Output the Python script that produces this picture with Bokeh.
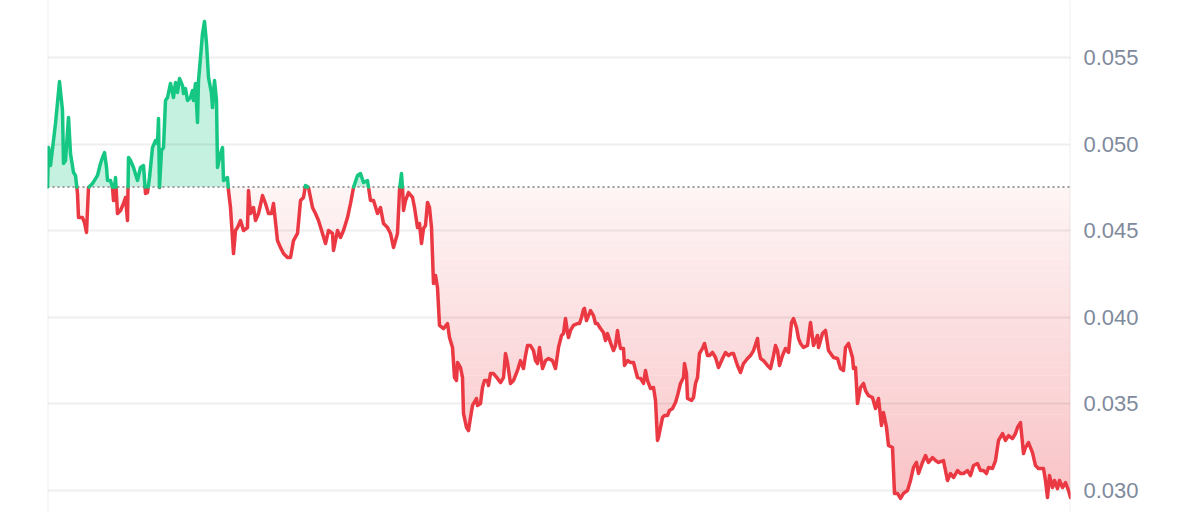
import numpy as np
from bokeh.plotting import figure
from bokeh.models import Range1d, FixedTicker, PrintfTickFormatter, Span
from bokeh.embed import file_html
from bokeh.resources import INLINE

# time index (sample positions) and price values
t = [0, 1, 3, 8, 12, 15, 16, 18, 21, 23, 26, 28, 30, 31, 35, 37, 39, 41, 45, 50,
     53, 55, 57, 59, 60, 63, 65, 66, 68, 70, 73, 76, 78, 80, 81, 83, 86, 90, 93, 96,
     98, 100, 102, 105, 108, 110, 111, 112, 114, 116, 118, 120, 123, 126, 128, 130, 132, 135, 136, 138,
     140, 143, 145, 146, 148, 150, 151, 153, 155, 157, 159, 161, 164, 165, 167, 169, 170, 173, 175, 176,
     180, 181, 183, 186, 188, 190, 193, 196, 200, 201, 203, 206, 208, 211, 215, 218, 221, 224, 226, 230,
     233, 236, 240, 243, 246, 250, 253, 256, 258, 261, 265, 268, 271, 275, 278, 281, 285, 286, 290, 293,
     296, 300, 303, 306, 310, 313, 316, 320, 323, 326, 330, 333, 336, 340, 343, 346, 350, 352, 354, 355,
     356, 358, 361, 365, 367, 370, 372, 374, 376, 378, 380, 382, 384, 386, 388, 390, 392, 396, 400, 402,
     405, 407, 409, 410, 413, 415, 416, 419, 421, 423, 425, 426, 429, 430, 433, 435, 437, 440, 441, 443,
     446, 450, 453, 456, 458, 460, 463, 466, 470, 473, 476, 478, 480, 483, 486, 488, 490, 492, 495, 498,
     501, 505, 508, 511, 514, 516, 518, 520, 521, 523, 526, 530, 532, 534, 536, 537, 539, 541, 543, 546,
     548, 550, 553, 556, 558, 560, 563, 566, 568, 570, 571, 573, 576, 577, 580, 583, 586, 590, 593, 596,
     598, 600, 603, 606, 608, 610, 611, 613, 615, 617, 620, 622, 625, 628, 630, 633, 636, 637, 639, 640,
     644, 646, 648, 650, 652, 655, 657, 660, 662, 665, 668, 671, 675, 678, 681, 684, 686, 690, 693, 696,
     700, 703, 706, 710, 711, 713, 716, 720, 723, 726, 728, 730, 732, 735, 738, 741, 744, 746, 749, 751,
     753, 756, 760, 763, 766, 770, 771, 775, 778, 781, 786, 790, 793, 796, 798, 801, 805, 806, 808, 810,
     813, 816, 818, 821, 825, 828, 831, 834, 836, 839, 841, 845, 847, 850, 853, 856, 860, 863, 866, 869,
     871, 875, 878, 881, 885, 888, 891, 896, 900, 903, 906, 910, 913, 916, 920, 923, 926, 930, 933, 936,
     939, 941, 945, 948, 951, 955, 958, 961, 965, 968, 970, 973, 976, 978, 981, 985, 988, 991, 996, 998,
     1000, 1002, 1005, 1007, 1010, 1012, 1015, 1018, 1021, 1023]

price = [0.04752, 0.04980, 0.04876, 0.05119, 0.05361, 0.05194, 0.04888, 0.04905, 0.05154, 0.04946,
         0.04836, 0.04819, 0.04715, 0.04576, 0.04576, 0.04547, 0.04490, 0.04749, 0.04772, 0.04819,
         0.04888, 0.04923, 0.04951, 0.04865, 0.04790, 0.04790, 0.04749, 0.04674, 0.04807, 0.04599,
         0.04617, 0.04657, 0.04692, 0.04559, 0.04923, 0.04905, 0.04865, 0.04790, 0.04865, 0.04876,
         0.04715, 0.04720, 0.04807, 0.04980, 0.05021, 0.05003, 0.05148, 0.04749, 0.04963, 0.04980,
         0.05252, 0.05269, 0.05350, 0.05269, 0.05356, 0.05298, 0.05379, 0.05338, 0.05292, 0.05321,
         0.05252, 0.05269, 0.05309, 0.05252, 0.05350, 0.05125, 0.05367, 0.05500, 0.05639, 0.05708,
         0.05581, 0.05385, 0.05292, 0.05211, 0.05367, 0.05252, 0.04865, 0.04946, 0.04980, 0.04790,
         0.04807, 0.04732, 0.04634, 0.04368, 0.04501, 0.04518, 0.04559, 0.04501, 0.04518, 0.04732,
         0.04599, 0.04634, 0.04559, 0.04599, 0.04703, 0.04657, 0.04599, 0.04599, 0.04657, 0.04443,
         0.04403, 0.04368, 0.04345, 0.04345, 0.04443, 0.04484, 0.04674, 0.04692, 0.04761, 0.04749,
         0.04634, 0.04599, 0.04559, 0.04484, 0.04426, 0.04501, 0.04484, 0.04386, 0.04501, 0.04461,
         0.04501, 0.04576, 0.04657, 0.04749, 0.04819, 0.04830, 0.04778, 0.04790, 0.04674, 0.04674,
         0.04599, 0.04634, 0.04541, 0.04518, 0.04484, 0.04403, 0.04484, 0.04732, 0.04830, 0.04749,
         0.04617, 0.04674, 0.04720, 0.04692, 0.04634, 0.04518, 0.04541, 0.04426, 0.04513, 0.04530,
         0.04663, 0.04634, 0.04518, 0.04195, 0.04241, 0.04172, 0.03953, 0.03935, 0.03964, 0.03883,
         0.03826, 0.03652, 0.03635, 0.03739, 0.03710, 0.03652, 0.03444, 0.03364, 0.03346, 0.03421,
         0.03491, 0.03502, 0.03531, 0.03491, 0.03502, 0.03595, 0.03635, 0.03635, 0.03606, 0.03675,
         0.03675, 0.03647, 0.03623, 0.03652, 0.03791, 0.03739, 0.03618, 0.03635, 0.03693, 0.03750,
         0.03704, 0.03779, 0.03837, 0.03837, 0.03808, 0.03750, 0.03733, 0.03826, 0.03704, 0.03750,
         0.03762, 0.03750, 0.03704, 0.03826, 0.03895, 0.03906, 0.03993, 0.03912, 0.03883, 0.03924,
         0.03953, 0.03964, 0.03964, 0.03999, 0.04045, 0.04051, 0.03981, 0.04010, 0.04039, 0.04010,
         0.03964, 0.03964, 0.03935, 0.03912, 0.03866, 0.03906, 0.03854, 0.03808, 0.03837, 0.03924,
         0.03883, 0.03820, 0.03820, 0.03722, 0.03750, 0.03739, 0.03739, 0.03652, 0.03647, 0.03618,
         0.03693, 0.03635, 0.03589, 0.03595, 0.03520, 0.03289, 0.03306, 0.03364, 0.03421, 0.03433,
         0.03433, 0.03462, 0.03473, 0.03508, 0.03548, 0.03618, 0.03652, 0.03733, 0.03675, 0.03531,
         0.03520, 0.03537, 0.03618, 0.03652, 0.03791, 0.03820, 0.03849, 0.03779, 0.03779, 0.03797,
         0.03768, 0.03710, 0.03762, 0.03797, 0.03779, 0.03791, 0.03791, 0.03722, 0.03681, 0.03733,
         0.03762, 0.03779, 0.03808, 0.03878, 0.03820, 0.03762, 0.03750, 0.03722, 0.03704, 0.03779,
         0.03837, 0.03808, 0.03722, 0.03779, 0.03820, 0.03797, 0.03970, 0.03993, 0.03941, 0.03878,
         0.03849, 0.03826, 0.03837, 0.03970, 0.03837, 0.03895, 0.03826, 0.03906, 0.03924, 0.03808,
         0.03768, 0.03762, 0.03704, 0.03693, 0.03826, 0.03849, 0.03768, 0.03704, 0.03710, 0.03502,
         0.03595, 0.03618, 0.03577, 0.03548, 0.03537, 0.03473, 0.03531, 0.03375, 0.03450, 0.03364,
         0.03260, 0.03248, 0.02983, 0.02983, 0.02954, 0.02983, 0.03000, 0.03058, 0.03133, 0.03162,
         0.03098, 0.03162, 0.03202, 0.03162, 0.03190, 0.03173, 0.03162, 0.03173, 0.03058, 0.03098,
         0.03075, 0.03115, 0.03098, 0.03098, 0.03115, 0.03086, 0.03144, 0.03156, 0.03115, 0.03115,
         0.03098, 0.03133, 0.03127, 0.03173, 0.03289, 0.03329, 0.03289, 0.03317, 0.03300, 0.03329,
         0.03364, 0.03392, 0.03213, 0.03248, 0.03277, 0.03219, 0.03144, 0.03127, 0.03127, 0.03058,
         0.02959, 0.03086, 0.03017, 0.03058, 0.03011, 0.03058, 0.03017, 0.03046, 0.03000, 0.02959]

baseline = 0.04752  # opening price (dotted reference line)
y_ticks = [0.030, 0.035, 0.040, 0.045, 0.050, 0.055]

GREEN = "#16c784"
RED = "#ea3943"


def blend(hex_color, alpha):
    r, g, b = (int(hex_color[i:i + 2], 16) for i in (1, 3, 5))
    mix = lambda c: int(round(255 * (1 - alpha) + c * alpha))
    return "#%02x%02x%02x" % (mix(r), mix(g), mix(b))


# insert crossing points with the baseline so colours switch exactly there
ts, ps = [], []
for i in range(len(t)):
    if i > 0:
        a = price[i - 1] - baseline
        b = price[i] - baseline
        if a * b < 0:
            f = a / (a - b)
            ts.append(t[i - 1] + f * (t[i] - t[i - 1]))
            ps.append(baseline)
    ts.append(t[i])
    ps.append(price[i])
ts = np.array(ts, dtype=float)
ps = np.array(ps, dtype=float)

p = figure(frame_width=1023, frame_height=513,
           min_border_left=47, min_border_right=122, min_border_top=0, min_border_bottom=0,
           x_range=Range1d(t[0], t[-1]), y_range=Range1d(0.028672, 0.058291),
           output_backend="svg", toolbar_location=None,
           y_axis_location="right", x_axis_location=None)
p.background_fill_color = "white"
p.border_fill_color = "white"
p.outline_line_color = None

# green area above baseline
p.varea(x=ts, y1=baseline, y2=np.maximum(ps, baseline),
        fill_color=blend(GREEN, 0.25), fill_alpha=1.0, level="image")

# red area below baseline with vertical gradient (bands)
N = 48
edges = np.linspace(min(price), baseline, N + 1)
eps = 0.4 / 17320.0
for i in range(N):
    lo, hi = edges[i], edges[i + 1]
    mid = 0.5 * (lo + hi)
    frac = (baseline - mid) / (baseline - 0.030)
    alpha = 0.05 + 0.25 * max(0.0, frac)
    y1 = np.clip(ps, lo - eps if i > 0 else lo, hi)
    p.varea(x=ts, y1=y1, y2=hi, fill_color=blend(RED, alpha), fill_alpha=1.0, level="image")

# grid & borders
p.xgrid.visible = False
p.ygrid.grid_line_color = "black"
p.ygrid.grid_line_alpha = 0.065
p.ygrid.grid_line_width = 2
for loc in (t[0], t[-1]):
    p.add_layout(Span(location=loc, dimension="height", line_color="black",
                      line_alpha=0.065, line_width=2))

# dotted baseline
p.line(x=[t[0], t[-1]], y=[baseline, baseline], line_color="#9a9a9a",
       line_width=2, line_dash="2 3")

green_y = np.where(ps >= baseline, ps, np.nan)
red_y = np.where(ps <= baseline, ps, np.nan)
p.line(x=ts, y=red_y, line_color=RED, line_width=3.5, line_join="round", line_cap="round")
p.line(x=ts, y=green_y, line_color=GREEN, line_width=3.5, line_join="round", line_cap="round")

ax = p.yaxis[0]
ax.ticker = FixedTicker(ticks=y_ticks)
ax.formatter = PrintfTickFormatter(format="%.3f")
ax.axis_line_color = None
ax.major_tick_line_color = None
ax.minor_tick_line_color = None
ax.major_tick_out = 0
ax.major_label_standoff = 13
ax.major_label_text_color = "#808a9d"
ax.major_label_text_font = "Liberation Sans"
ax.major_label_text_font_size = "22px"

open("out.html", "w").write(file_html(p, INLINE, title="Price chart"))
